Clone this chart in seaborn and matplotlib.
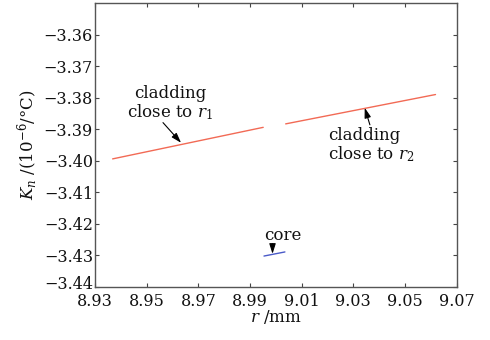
import matplotlib
matplotlib.use("Agg")
import matplotlib.pyplot as plt
import matplotlib.transforms as mtransforms
import seaborn as sns
import pandas as pd

# data
seg1_r = [8.9368, 8.9951]
seg1_k = [-3.3994, -3.3894]
seg2_r = [9.0038, 9.0618]
seg2_k = [-3.3883, -3.3790]
core_r = [8.9954, 9.0035]
core_k = [-3.4302, -3.4289]

x_ticks = [8.93, 8.95, 8.97, 8.99, 9.01, 9.03, 9.05, 9.07]
y_ticks = [-3.44, -3.43, -3.42, -3.41, -3.40, -3.39, -3.38, -3.37, -3.36]

sns.set_theme(style="ticks")
plt.rcParams["font.family"] = ["DejaVu Serif"]
plt.rcParams["mathtext.fontset"] = "dejavuserif"
plt.rcParams["axes.unicode_minus"] = True

fig = plt.figure(figsize=(4.9, 3.4), dpi=100)
ax = fig.add_axes([0.194, 0.156, 0.738, 0.835])

df = pd.concat([
    pd.DataFrame({"r": seg1_r, "K": seg1_k, "s": "c1"}),
    pd.DataFrame({"r": seg2_r, "K": seg2_k, "s": "c2"}),
    pd.DataFrame({"r": core_r, "K": core_k, "s": "core"}),
])
sns.lineplot(data=df, x="r", y="K", hue="s",
             palette={"c1": "#f26a55", "c2": "#f26a55", "core": "#4a5ac8"},
             linewidth=1.0, legend=False, ax=ax, estimator=None, sort=False)

ax.set_xlim(8.93, 9.07)
ax.set_ylim(-3.44, -3.35)
ax.set_xticks(x_ticks)
ax.set_xticklabels([f"{v:.2f}" for v in x_ticks])
ax.set_yticks(y_ticks)
ax.set_yticklabels([f"\u2212{abs(v):.2f}" for v in y_ticks])
ax.tick_params(direction="in", length=3, width=0.8, colors="#444444",
               labelcolor="#111111", labelsize=11.5, top=True, right=True)
ax.tick_params(axis="y", pad=1.5)
ax.tick_params(axis="x", pad=4)
for sp in ax.spines.values():
    sp.set_color("#555555")
    sp.set_linewidth(1.0)

# nudge the lowest y tick label up slightly so it does not collide with 8.93
lab0 = ax.get_yticklabels()[0]
lab0.set_transform(lab0.get_transform() +
                   mtransforms.ScaledTranslation(0, 3.5 / 72, fig.dpi_scale_trans))

ax.set_xlabel("$r$ /mm", fontsize=12, color="#111111", labelpad=-1)
ax.set_ylabel("$K_n$ /(10$^{-6}$/\u00b0C)", fontsize=12, color="#111111",
              labelpad=3)

arrow = dict(arrowstyle="-|>,head_length=0.5,head_width=0.16", color="black",
             lw=0.8, shrinkA=0, shrinkB=0)
tk = dict(fontsize=12, color="#111111")

ax.text(8.959, -3.3819, "cladding\nclose to $r_1$", ha="center", va="center",
        multialignment="center", linespacing=1.05, **tk)
ax.annotate("", xy=(8.9633, -3.3943), xytext=(8.9563, -3.3879), arrowprops=arrow)

ax.text(9.0201, -3.3952, "cladding\nclose to $r_2$", ha="left", va="center",
        multialignment="left", linespacing=1.05, **tk)
ax.annotate("", xy=(9.0344, -3.3832), xytext=(9.0364, -3.3886), arrowprops=arrow)

ax.text(9.0027, -3.4238, "core", ha="center", va="center", **tk)
ax.annotate("", xy=(8.9987, -3.4295), xytext=(8.9987, -3.4263), arrowprops=arrow)

fig.savefig("out.png", dpi=100)
